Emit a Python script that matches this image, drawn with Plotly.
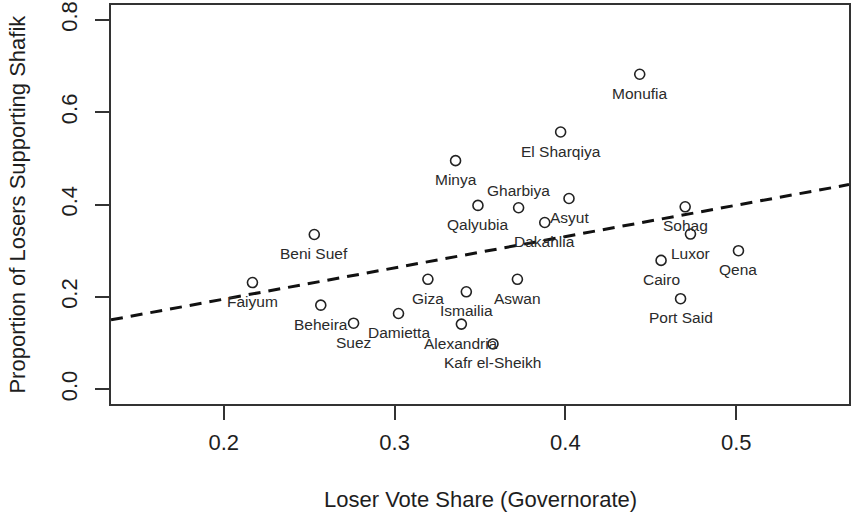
import plotly.graph_objects as go

governorates = ["Monufia", "El Sharqiya", "Minya", "Qalyubia", "Gharbiya", "Asyut", "Dakahlia",
                "Beni Suef", "Faiyum", "Beheira", "Suez", "Damietta", "Giza", "Ismailia", "Aswan",
                "Alexandria", "Kafr el-Sheikh", "Sohag", "Luxor", "Qena", "Cairo", "Port Said"]
loser_share = [0.4435, 0.3972, 0.3357, 0.3488, 0.3726, 0.4021, 0.3879,
               0.2530, 0.2168, 0.2568, 0.2760, 0.3023, 0.3195, 0.3420, 0.3719,
               0.3391, 0.3576, 0.4701, 0.4732, 0.5013, 0.4560, 0.4674]
prop_shafik = [0.682, 0.557, 0.495, 0.398, 0.393, 0.413, 0.361,
               0.335, 0.231, 0.182, 0.143, 0.164, 0.238, 0.211, 0.238,
               0.141, 0.098, 0.395, 0.336, 0.300, 0.279, 0.196]
label_side = ["below"] * len(governorates)
label_side[governorates.index("Gharbiya")] = "above"

# regression line coefficients
fit_intercept = 0.0594
fit_slope = 0.678

x_range = [0.134, 0.566]
y_range = [-0.032, 0.832]
x_ticks = [0.2, 0.3, 0.4, 0.5]
y_ticks = [0.0, 0.2, 0.4, 0.6, 0.8]

FONT = "Liberation Sans, Arial, sans-serif"
INK = "#1e1e1e"

fig = go.Figure()

fig.add_trace(go.Scatter(
    x=x_range,
    y=[fit_intercept + fit_slope * v for v in x_range],
    mode="lines",
    line=dict(color="#111111", width=3, dash="12px,8px"),
    hoverinfo="skip",
    showlegend=False,
))

fig.add_trace(go.Scatter(
    x=loser_share, y=prop_shafik, mode="markers",
    marker=dict(symbol="circle-open", size=10, color="#222222", line=dict(width=1.6, color="#222222")),
    text=governorates, showlegend=False,
))

for name, xv, yv, side in zip(governorates, loser_share, prop_shafik, label_side):
    fig.add_annotation(
        x=xv, y=yv, xref="x", yref="y", text=name, showarrow=False,
        xanchor="center", yanchor="middle",
        yshift=(17 if side == "above" else -19),
        font=dict(family=FONT, size=15.5, color="#2a2a2a"),
    )

fig.add_annotation(
    x=0.5, y=-0.2406, xref="paper", yref="paper", text="Loser Vote Share (Governorate)",
    showarrow=False, xanchor="center", yanchor="middle",
    font=dict(family=FONT, size=22, color=INK),
)
fig.add_annotation(
    x=-0.1273, y=0.5, xref="paper", yref="paper", text="Proportion of Losers Supporting Shafik",
    showarrow=False, xanchor="center", yanchor="middle", textangle=-90,
    font=dict(family=FONT, size=22, color=INK),
)

axis_common = dict(
    showgrid=False, zeroline=False, automargin=False,
    showline=True, mirror=True, linecolor="#333333", linewidth=1.5,
    ticks="outside", ticklen=14, tickwidth=1.5, tickcolor="#333333",
    tickfont=dict(family=FONT, size=22, color=INK),
)

fig.update_xaxes(range=x_range, tickvals=x_ticks, ticktext=[f"{v:.1f}" for v in x_ticks],
                 ticklabelstandoff=4, **axis_common)
fig.update_yaxes(range=y_range, tickvals=y_ticks, ticktext=[f"{v:.1f}" for v in y_ticks],
                 tickangle=-90, ticklabelstandoff=9, **axis_common)

fig.update_layout(
    width=851, height=517,
    margin=dict(l=111, r=2, t=5, b=113),
    plot_bgcolor="white", paper_bgcolor="white",
    showlegend=False,
)

fig.write_html(
    "out.html",
    config={"displayModeBar": False},
    post_script="document.body.style.margin='0';document.body.style.overflow='hidden';",
)
